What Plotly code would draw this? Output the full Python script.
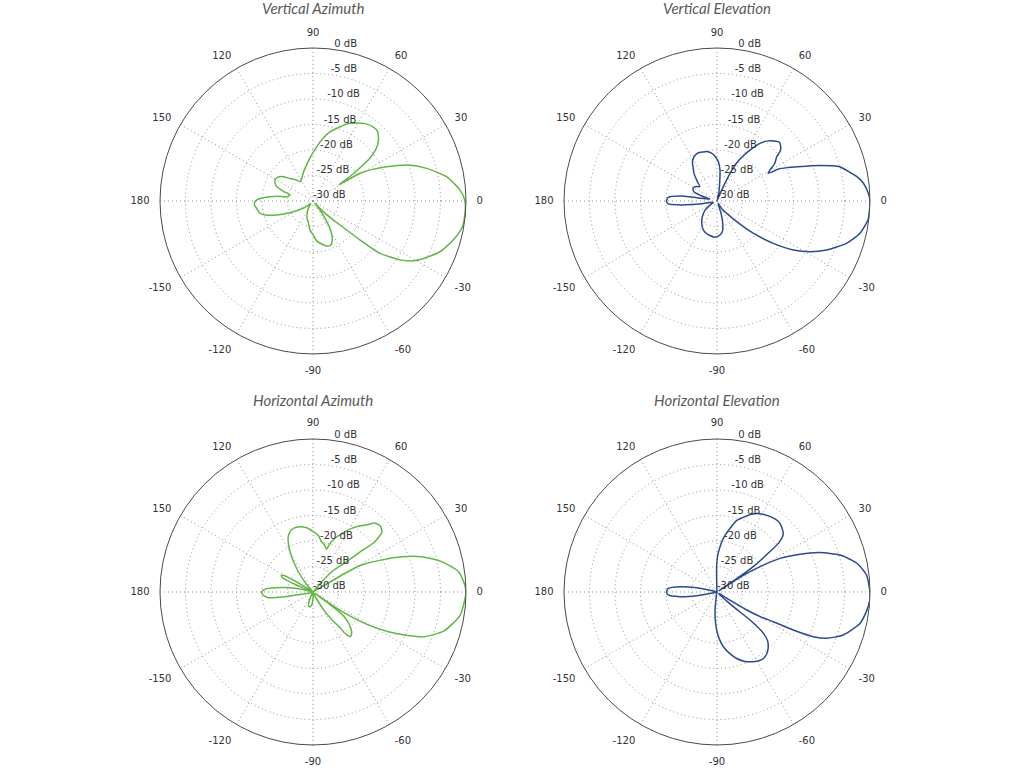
import plotly.graph_objects as go

# ---------------- data (angle in degrees, level in dB) ----------------
titles = ["Vertical Azimuth", "Vertical Elevation", "Horizontal Azimuth", "Horizontal Elevation"]

va_theta = [-180, -176, -172, -167, -163, -159, -155, -151.5, -146, -140, -133, -127, -122, -115, -108,
            -103, -96, -89.5, -85, -78.5, -72, -68, -64, -61, -58, -55, -52, -49.5, -46, -43, -41.6,
            -39.7, -38, -34.1, -30.8, -27.5, -21.8, -15.5, -10, -5, 0, 4.3, 10.3, 16, 20.7, 25, 28,
            30.5, 32, 33.5, 35, 37, 39.5, 42.5, 47, 51, 56, 61, 66, 71, 76, 81, 86, 93, 100, 108, 116,
            123, 130, 135.5, 142, 147, 151, 155, 158.5, 162, 165, 168, 170.7, 172.5, 174.3, 177, 180]
va_db = [-18.7, -18.5, -18.9, -19.3, -20.5, -22.3, -24.2, -25.6, -27.2, -28.3, -29.3, -29.0, -28.3, -27.3,
         -26.3, -25.8, -24.3, -23.3, -22.2, -21.4, -20.7, -20.7, -21.4, -22.4, -23.8, -25.9, -28.0, -29.5,
         -27.1, -24.5, -22.9, -18.0, -13.3, -9.4, -7.1, -5.6, -3.2, -1.45, -0.3, -0.1, -0.2, -1.1, -3.4,
         -6.8, -10.0, -14.1, -16.8, -19.3, -24.0, -21.3, -19.0, -16.0, -14.0, -12.6, -11.4, -11.3, -11.7,
         -12.5, -13.4, -14.8, -16.0, -17.6, -19.3, -21.3, -22.8, -24.0, -25.0, -25.5, -24.5, -23.7, -22.2,
         -21.6, -21.5, -21.8, -22.4, -24.0, -25.3, -25.2, -24.8, -23.0, -21.5, -19.8, -18.7]

ve_theta = [-180, -176.5, -174, -172, -170, -165, -158, -150, -143, -133, -124.5, -115, -108, -101.6, -95,
            -90, -85, -80, -76, -72, -67, -62, -57.4, -51.8, -46.4, -41.7, -37, -32.7, -28.6, -24.1, -18.1,
            -12.7, -7, 0, 3, 7, 10, 12.7, 15.6, 19, 23, 25.5, 27.4, 28.4, 30.3, 33, 36.6, 38.3, 40.4, 43.3,
            46.5, 49.5, 53.3, 56.5, 60, 63, 65, 67, 70, 74, 78, 80.7, 84.5, 88, 92.6, 97, 101.8, 106, 110,
            113, 117, 122, 125, 130, 135, 140, 144, 148, 152, 156, 159, 162, 165, 168, 170.8, 172.3, 175.7, 180]
ve_db = [-20.1, -20.4, -22.7, -25.0, -27.0, -29.0, -29.2, -28.5, -27.1, -25.8, -24.7, -23.7, -23.3, -23.1,
         -22.9, -23.0, -23.3, -23.9, -25.3, -27.3, -29.5, -29.3, -28.1, -26.9, -24.4, -20.5, -16.2, -12.2,
         -9.2, -6.45, -3.3, -1.25, -0.15, 0.0, -0.3, -1.1, -2.2, -3.6, -5.0, -8.6, -12.8, -14.8, -16.4,
         -18.6, -18.0, -16.5, -15.4, -14.2, -13.6, -13.2, -13.8, -14.5, -15.9, -17.8, -19.8, -21.8, -24.5,
         -28.0, -29.8, -29.8, -28.2, -27.0, -23.9, -22.3, -21.2, -20.5, -20.1, -20.0, -19.9, -19.9, -20.2,
         -20.9, -21.8, -23.0, -24.5, -25.6, -25.2, -24.8, -24.7, -24.9, -25.3, -27.0, -28.5, -28.0, -26.0,
         -22.7, -20.4, -20.1]

ha_theta = [-180, -176, -172.7, -170.5, -168.5, -165, -150, -130, -118, -113, -109.9, -103, -95.7, -91, -85,
            -75, -67, -62, -58.6, -55.5, -53, -52, -50, -47, -44.5, -41.5, -39.5, -37.6, -36.3, -35.5, -34.8,
            -33.1, -30.8, -27.8, -25.2, -21.9, -16.5, -9, -1, 2.6, 8, 13.3, 18, 21.7, 25, 29, 30.3, 31, 36,
            44, 50, 46.9, 42.5, 40.5, 39, 41, 44.7, 48.7, 50.7, 55, 58.7, 61.5, 64.5, 67.7, 70.5, 72.6, 75.5,
            80.2, 85, 89.7, 95, 99.8, 104.5, 109, 112, 114.7, 117, 119.7, 122.5, 125.9, 130, 137, 145, 148,
            150.2, 152.5, 154.9, 157, 160, 164, 166.5, 168.4, 171, 173.5, 175.5, 177.7, 180]
ha_db = [-19.9, -20.3, -21.2, -24.4, -27.7, -29.5, -30.0, -30.0, -29.5, -28.2, -27.3, -27.0, -27.4, -28.5,
         -29.8, -30.0, -29.5, -28.0, -25.5, -23.3, -21.5, -19.5, -18.6, -18.9, -19.5, -20.6, -21.5, -22.8,
         -26.0, -29.5, -25.5, -21.7, -17.4, -13.3, -10.2, -6.5, -3.2, -0.8, -0.05, -0.2, -1.2, -4.1, -7.6,
         -11.3, -15.1, -19.1, -22.7, -29.5, -30.0, -29.5, -28.0, -24.5, -21.5, -18.1, -14.6, -12.1, -11.5,
         -12.0, -12.9, -14.2, -15.4, -16.4, -17.5, -18.6, -19.8, -21.2, -20.6, -20.0, -18.8, -18.2, -17.4,
         -17.0, -16.9, -17.1, -17.6, -18.3, -19.4, -20.9, -22.8, -25.1, -28.0, -30.0, -29.5, -27.0, -23.5,
         -23.0, -23.4, -26.0, -29.5, -29.5, -28.0, -26.4, -24.3, -22.5, -21.0, -20.3, -19.9]

he_theta = [-180, -176.5, -172.8, -169.7, -166, -150, -120, -105, -98, -96.3, -93, -90.5, -87, -83.4, -78,
            -73.5, -68, -62.5, -58.5, -55.1, -51.5, -47.7, -44, -41.7, -40.3, -42, -40, -34, -32.5, -31.2,
            -29.5, -27.8, -26.5, -24.9, -22.9, -18.8, -12.4, -7, -3, 0, 6.5, 11.6, 16.7, 21, 24.5, 28.1,
            30.5, 32.5, 33.3, 33.8, 34.9, 37.3, 38.6, 41, 44.6, 48, 51.6, 56, 61.3, 66, 70.7, 74.7, 78.5,
            83.5, 86.5, 89, 90.5, 91.5, 93, 120, 150, 165, 168, 171.8, 175.7, 180]
he_db = [-20.1, -20.4, -22.7, -26.0, -29.3, -30.0, -30.0, -29.8, -28.5, -26.5, -24.2, -22.5, -20.7, -19.2,
         -17.6, -16.4, -15.3, -14.6, -14.2, -14.1, -14.4, -15.1, -16.2, -17.8, -21.5, -25.7, -29.5, -29.5,
         -27.0, -23.2, -20.0, -17.5, -13.3, -9.2, -6.65, -3.85, -1.3, -0.4, 0.0, 0.0, -0.5, -2.0, -4.8,
         -8.4, -12.1, -16.0, -20.2, -24.0, -29.5, -26.0, -21.5, -17.0, -14.4, -12.8, -12.1, -11.7, -11.7,
         -12.0, -12.5, -13.3, -14.5, -15.5, -17.3, -19.5, -21.3, -22.9, -24.5, -27.0, -29.8, -30.0, -30.0,
         -29.5, -25.9, -22.7, -20.4, -20.1]

angle_ticks = [0, 30, 60, 90, 120, 150, 180, 210, 240, 270, 300, 330]
angle_labels = ["0", "30", "60", "90", "120", "150", "180", "-150", "-120", "-90", "-60", "-30"]
db_ticks = [0, -5, -10, -15, -20, -25, -30]
db_labels = ["0 dB", "-5 dB", "-10 dB", "-15 dB", "-20 dB", "-25 dB", "-30 dB"]
ring_ticks = [-25, -20, -15, -10, -5]

GREEN = "#62b646"
BLUE = "#2c4a8e"
patterns = [(va_theta, va_db, GREEN), (ve_theta, ve_db, BLUE),
            (ha_theta, ha_db, GREEN), (he_theta, he_db, BLUE)]

domains = [
    dict(x=[0.15625, 0.45508], y=[0.5391, 0.9375]),
    dict(x=[0.55078, 0.84961], y=[0.5391, 0.9375]),
    dict(x=[0.15625, 0.45508], y=[0.02995, 0.42839]),
    dict(x=[0.55078, 0.84961], y=[0.02995, 0.42839]),
]
title_pos = [(0.3057, 0.9893), (0.7002, 0.9893), (0.3057, 0.4792), (0.7002, 0.4792)]

fig = go.Figure()
label_font = dict(family="DejaVu Sans", size=10, color="#333333")

for i, (th, db, col) in enumerate(patterns):
    sp = "polar" if i == 0 else f"polar{i + 1}"
    fig.add_trace(go.Scatterpolar(theta=th, r=db, mode="lines", subplot=sp,
                                  line=dict(color=col, width=1.5, shape="spline", smoothing=0.6),
                                  hoverinfo="skip", showlegend=False))
    # radial labels along the 82 degree line
    fig.add_trace(go.Scatterpolar(theta=[82] * len(db_ticks), r=db_ticks, text=db_labels,
                                  mode="text", textposition="top right", textfont=label_font,
                                  subplot=sp, cliponaxis=False, hoverinfo="skip", showlegend=False))

GRID = "#8f8f8f"
polar_common = dict(
    bgcolor="white",
    angularaxis=dict(rotation=0, direction="counterclockwise", tickmode="array",
                     tickvals=angle_ticks, ticktext=angle_labels, showticklabels=True,
                     ticks="outside", ticklen=8, tickcolor="rgba(0,0,0,0)", tickfont=label_font,
                     showgrid=True, gridcolor=GRID, griddash="1px,3px", gridwidth=1,
                     showline=True, linecolor="#4a4a4a", linewidth=1),
    radialaxis=dict(range=[-30, 0], tickmode="array", tickvals=ring_ticks,
                    showticklabels=False, ticks="", showline=False,
                    showgrid=True, gridcolor=GRID, griddash="1px,3px", gridwidth=1),
)

layout = dict(width=1024, height=768, margin=dict(l=0, r=0, t=0, b=0),
              paper_bgcolor="white", plot_bgcolor="white", showlegend=False)
for i, d in enumerate(domains):
    key = "polar" if i == 0 else f"polar{i + 1}"
    layout[key] = dict(domain=d, **polar_common)

annotations = []
for t, (x, y) in zip(titles, title_pos):
    annotations.append(dict(text=f"<i>{t}</i>", x=x, y=y, xref="paper", yref="paper",
                            xanchor="center", yanchor="middle", showarrow=False,
                            font=dict(family="Lato", size=15, color="#5a5a5a")))
layout["annotations"] = annotations

fig.update_layout(**layout)
fig.write_html("out.html", config={"displayModeBar": False},
               post_script="document.body.style.margin='0px';")
